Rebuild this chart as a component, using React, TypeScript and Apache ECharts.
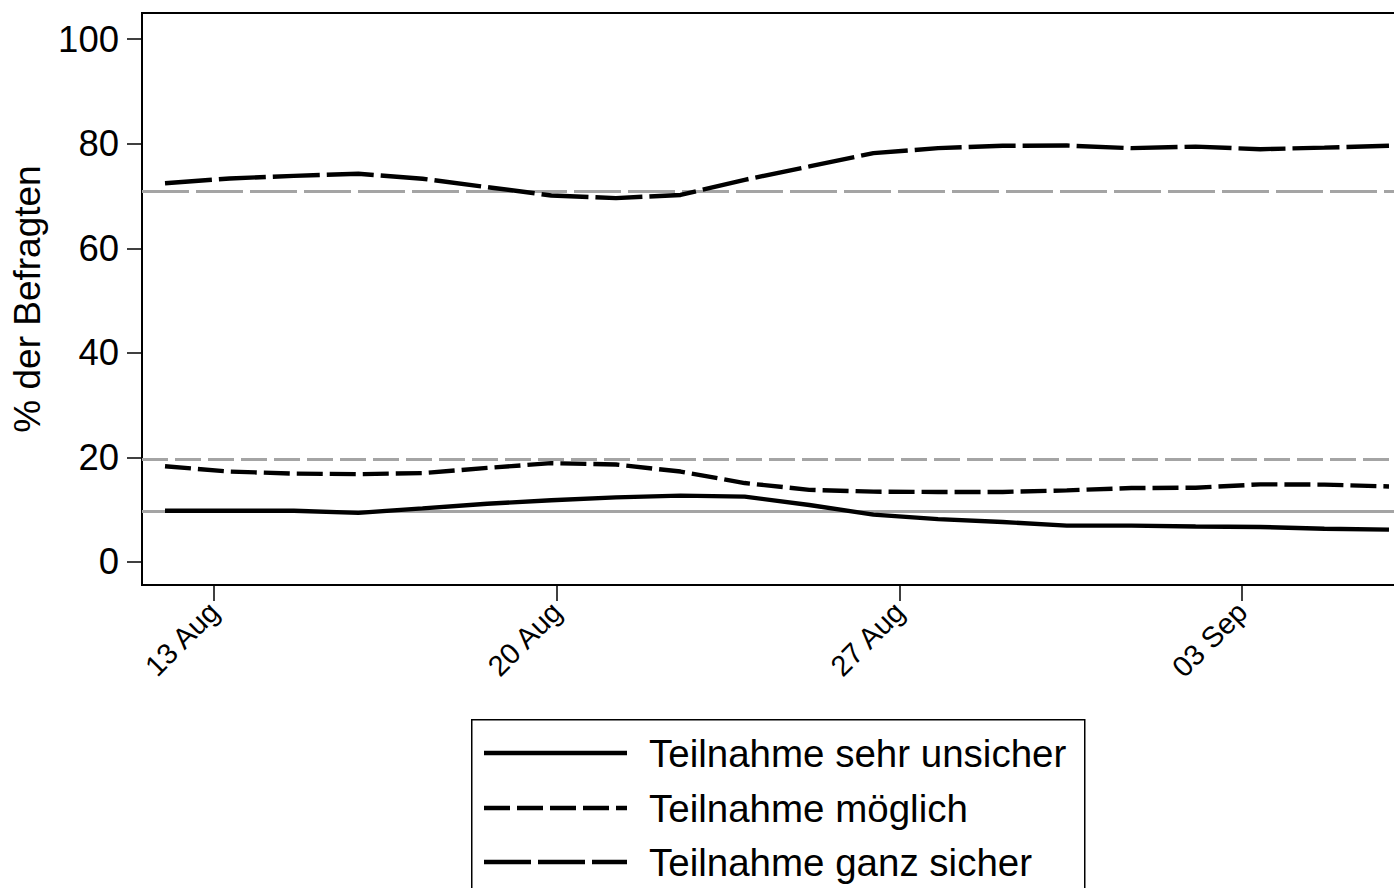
import React, { useEffect, useRef } from "react";
import * as echarts from "echarts";

// x positions of the observations, in days counted from 1 August (12 Aug ... 06 Sep)
const dayPositions = [12, 13.32, 14.63, 15.95, 17.26, 18.58, 19.89, 21.21, 22.53, 23.84, 25.16, 26.47, 27.79, 29.11, 30.42, 31.74, 33.05, 34.37, 35.68, 37];

const seriesNames = ["Teilnahme sehr unsicher", "Teilnahme möglich", "Teilnahme ganz sicher"];

const sehrUnsicher = [9.8, 9.8, 9.8, 9.4, 10.25, 11.15, 11.8, 12.35, 12.7, 12.5, 10.9, 9.05, 8.2, 7.65, 6.95, 6.95, 6.8, 6.7, 6.35, 6.2];
const moeglich = [18.3, 17.3, 16.9, 16.8, 17.0, 18.0, 18.9, 18.65, 17.3, 15.1, 13.8, 13.45, 13.4, 13.4, 13.7, 14.15, 14.2, 14.85, 14.8, 14.45];
const ganzSicher = [72.45, 73.35, 73.85, 74.25, 73.3, 71.7, 70.1, 69.6, 70.2, 73.1, 75.65, 78.2, 79.15, 79.6, 79.65, 79.15, 79.45, 78.95, 79.25, 79.6];

// grey reference lines (one per series)
const referenceValues = [9.8, 19.7, 71.0];

const xTickValues = [13, 20, 27, 34];
const xTickLabels = ["13 Aug", "20 Aug", "27 Aug", "03 Sep"];
const yTickValues = [0, 20, 40, 60, 80, 100];

const FONT = '"Liberation Sans", Arial, Helvetica, sans-serif';

const dashPatterns: any[] = ["solid", [26, 7], [47, 7]];

export default function App() {
  const ref = useRef<HTMLDivElement>(null);

  useEffect(() => {
    if (!ref.current) return;
    const chart = echarts.init(ref.current, undefined, { renderer: "svg" });
    const values = [sehrUnsicher, moeglich, ganzSicher];

    const series: any[] = values.map((vals, i) => ({
      name: seriesNames[i],
      type: "line",
      data: vals.map((v, k) => [dayPositions[k], v]),
      symbol: "none",
      showSymbol: false,
      z: 3,
      lineStyle: { color: "#000", width: 4.4, type: dashPatterns[i], cap: "butt" },
      itemStyle: { color: "#000" },
      markLine: {
        silent: true,
        symbol: "none",
        label: { show: false },
        z: 1,
        data: [{ yAxis: referenceValues[i] }],
        lineStyle: { color: "#a4a4a4", width: 3, type: dashPatterns[i] },
      },
    }));

    // legend drawn as graphic elements
    const legendLeft = 471;
    const legendTop = 719;
    const rowY = [753, 808, 862];
    const legendGraphics: any[] = [
      {
        type: "rect",
        left: legendLeft,
        top: legendTop,
        shape: { x: 0, y: 0, width: 613, height: 200 },
        style: { fill: "#fff", stroke: "#000", lineWidth: 1.5 },
        z: 10,
      },
    ];
    seriesNames.forEach((name, i) => {
      legendGraphics.push({
        type: "line",
        shape: { x1: 484, y1: rowY[i], x2: 627, y2: rowY[i] },
        style: {
          stroke: "#000",
          lineWidth: 4.4,
          lineDash: dashPatterns[i] === "solid" ? null : dashPatterns[i],
        },
        z: 11,
      });
      legendGraphics.push({
        type: "text",
        x: 649,
        y: rowY[i],
        style: {
          text: name,
          fill: "#000",
          font: `38.5px ${FONT}`,
          textVerticalAlign: "middle",
          verticalAlign: "middle",
          textAlign: "left",
        },
        z: 11,
      });
    });

    chart.setOption({
      animation: false,
      backgroundColor: "#fff",
      textStyle: { fontFamily: FONT },
      grid: {
        left: 142,
        top: 13,
        width: 1270,
        height: 572,
        show: true,
        borderColor: "#000",
        borderWidth: 2,
        backgroundColor: "transparent",
      },
      xAxis: {
        type: "value",
        min: 11.53,
        max: 37.47,
        splitLine: { show: false },
        axisLine: { show: true, onZero: false, lineStyle: { color: "#000", width: 2 } },
        axisTick: {
          show: true,
          length: 16,
          customValues: xTickValues,
          lineStyle: { color: "#000", width: 1.5 },
        },
        axisLabel: {
          customValues: xTickValues,
          rotate: 45,
          margin: 22,
          fontSize: 29,
          color: "#000",
          fontFamily: FONT,
          formatter: (v: number) => {
            const idx = xTickValues.indexOf(Math.round(v));
            return idx >= 0 ? xTickLabels[idx] : "";
          },
        },
      },
      yAxis: {
        type: "value",
        min: -4.4,
        max: 105,
        name: "% der Befragten",
        nameLocation: "middle",
        nameGap: 96,
        nameTextStyle: { fontSize: 37, color: "#000", fontFamily: FONT },
        splitLine: { show: false },
        axisLine: { show: true, onZero: false, lineStyle: { color: "#000", width: 2 } },
        axisTick: {
          show: true,
          length: 15,
          customValues: yTickValues,
          lineStyle: { color: "#000", width: 1.5 },
        },
        axisLabel: {
          customValues: yTickValues,
          margin: 23,
          fontSize: 36.5,
          color: "#000",
          fontFamily: FONT,
        },
      },
      graphic: legendGraphics,
      series,
    });

    return () => {
      chart.dispose();
    };
  }, []);

  return (
    <div
      style={{
        position: "fixed",
        left: 0,
        top: 0,
        width: 1394,
        height: 888,
        overflow: "hidden",
        background: "#fff",
      }}
    >
      <div ref={ref} style={{ width: 1420, height: 930 }} />
    </div>
  );
}
